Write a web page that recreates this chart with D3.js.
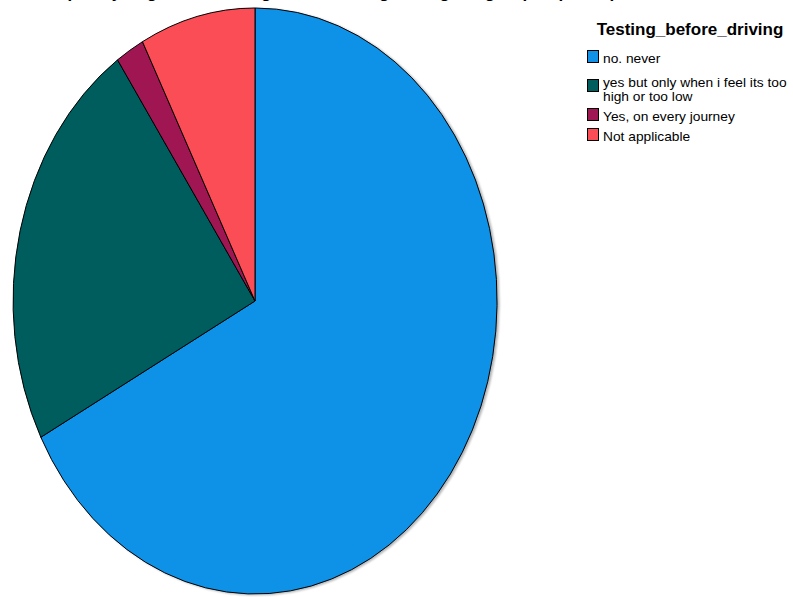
<!DOCTYPE html>
<html>
<head>
<meta charset="utf-8">
<script src="https://cdn.jsdelivr.net/npm/d3@7"></script>
<style>
  html, body { margin: 0; padding: 0; background: #fff; overflow: hidden; }
  svg { display: block; }
</style>
</head>
<body>
<svg id="chart" width="793" height="597"></svg>
<script>
// Responses to "Testing_before_driving" (counts)
const categories = [
  "no. never",
  "yes but only when i feel its too high or too low",
  "Yes, on every journey",
  "Not applicable"
];
const counts = [35, 12, 1, 4];
const colors = ["#1192e8", "#005d5d", "#9f1853", "#fa4d56"];
const legendLines = [
  ["no. never"],
  ["yes but only when i feel its too", "high or too low"],
  ["Yes, on every journey"],
  ["Not applicable"]
];
const chartTitle = "Frequency of glucose testing before driving among the group of participants";
const legendTitle = "Testing_before_driving";

const svg = d3.select("#chart");
const FONT = "Liberation Sans, Arial, sans-serif";

// Title sits mostly above the visible area
svg.append("text")
  .attr("x", 345).attr("y", -2.5)
  .attr("text-anchor", "middle")
  .attr("font-family", FONT)
  .attr("font-weight", "bold")
  .attr("font-size", 17)
  .text(chartTitle);

// Soft drop shadow around the pie
const defs = svg.append("defs");
const f = defs.append("filter").attr("id", "shadow")
  .attr("filterUnits", "userSpaceOnUse")
  .attr("x", 0).attr("y", 0).attr("width", 793).attr("height", 597);
f.append("feGaussianBlur").attr("in", "SourceAlpha").attr("stdDeviation", 1.2).attr("result", "b");
f.append("feOffset").attr("in", "b").attr("dx", 1.5).attr("dy", 1).attr("result", "o");
f.append("feComponentTransfer").attr("in", "o").attr("result", "s")
  .append("feFuncA").attr("type", "linear").attr("slope", 0.3);
const m = f.append("feMerge");
m.append("feMergeNode").attr("in", "s");
m.append("feMergeNode").attr("in", "SourceGraphic");

// Elliptical pie: unit arcs stretched to rx x ry
const cx = 255, cy = 301, rx = 242, ry = 293;
const pie = d3.pie().sort(null).value(d => d)(counts);
const arc = d3.arc().innerRadius(0).outerRadius(1);

const outer = svg.append("g").attr("filter", "url(#shadow)");
const g = outer.append("g")
  .attr("transform", `translate(${cx},${cy}) scale(${rx},${ry})`);

g.selectAll("path")
  .data(pie)
  .join("path")
  .attr("d", arc)
  .attr("fill", (d, i) => colors[i])
  .attr("stroke", "#000")
  .attr("stroke-width", 1)
  .attr("stroke-linejoin", "round")
  .attr("vector-effect", "non-scaling-stroke");

// Legend
const lg = svg.append("g");
lg.append("text")
  .attr("x", 690).attr("y", 35)
  .attr("text-anchor", "middle")
  .attr("font-family", FONT)
  .attr("font-weight", "bold")
  .attr("font-size", 17)
  .text(legendTitle);

const itemY = [50, 79, 108, 128]; // swatch tops
legendLines.forEach((lines, i) => {
  lg.append("rect")
    .attr("x", 587.5).attr("y", itemY[i] + 0.5)
    .attr("width", 11).attr("height", 12)
    .attr("fill", colors[i])
    .attr("stroke", "#000").attr("stroke-width", 1);
  const base = lines.length > 1 ? itemY[i] + 8 : itemY[i] + 13;
  lines.forEach((ln, j) => {
    lg.append("text")
      .attr("x", 603)
      .attr("y", base + j * 14)
      .attr("font-family", FONT)
      .attr("font-size", 13)
      .attr("fill", "#000")
      .attr("transform", `translate(603,0) scale(1.06,1) translate(-603,0)`)
      .text(ln);
  });
});
</script>
</body>
</html>
